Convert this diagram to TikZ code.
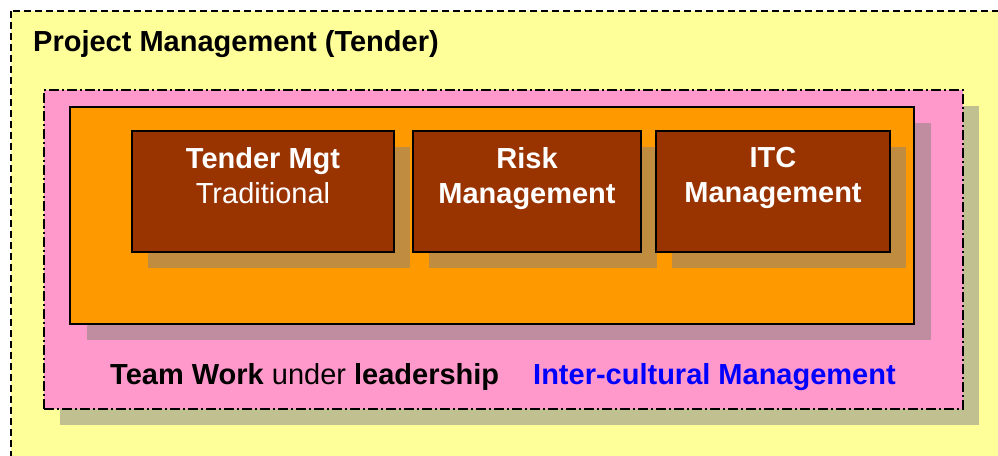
\documentclass[tikz,border=0pt]{standalone}
\usepackage{fontspec}
\setmainfont{Liberation Sans}
\usepackage{xcolor}
\usepackage{tikz}
\usetikzlibrary{shadows}
\definecolor{projyellow}{HTML}{FFFF99}
\definecolor{teampink}{HTML}{FF99CC}
\definecolor{teamshadow}{HTML}{C0C090}
\definecolor{coreorange}{HTML}{FF9900}
\definecolor{coreshadow}{HTML}{C08CA0}
\definecolor{tenderbrown}{HTML}{993300}
\definecolor{tendershadow}{HTML}{C08C40}
\tikzstyle{basebox} = [rectangle, draw=black, line width=1.5pt, inner sep=0pt]
\tikzstyle{teambox} = [basebox, fill=teampink, line width=2pt,
dash pattern=on 10pt off 3pt on 2pt off 3pt,
minimum width=919pt, minimum height=319pt,
drop shadow={shadow xshift=16pt, shadow yshift=-16pt, fill=teamshadow, opacity=1}]
\tikzstyle{corebox} = [basebox, fill=coreorange,
minimum width=844pt, minimum height=217pt,
drop shadow={shadow xshift=17pt, shadow yshift=-16pt, fill=coreshadow, opacity=1}]
\tikzstyle{tenderbox} = [basebox, fill=tenderbrown, minimum height=121pt,
drop shadow={shadow xshift=16pt, shadow yshift=-16pt, fill=tendershadow, opacity=1}]
\tikzstyle{bigtext} = [inner sep=0pt, font=\fontsize{29}{35}\selectfont]
\tikzstyle{boldtext} = [inner sep=0pt, font=\bfseries\fontsize{29}{35}\selectfont]
\tikzstyle{boxtext} = [text=white, align=center, anchor=north]

\begin{document}
\begin{tikzpicture}[x=1pt, y=1pt]
        \useasboundingbox (0,0) rectangle (998,455);
        \clip (0,0) rectangle (998,455);
        % outer frame
        \draw[fill=projyellow, line width=2pt, dash pattern=on 7pt off 4pt]
            (11,444) rectangle (1020,-20);
        \node[boldtext, anchor=base west] (project) at (33,403) {Project Management (Tender)};
        % team and core boxes
        \node[teambox] (team) at (503.5,205.5) {};
        \node[corebox] (core) at (492,239.5) {};
        % management boxes
        \node[tenderbox, minimum width=262pt] (tender) at (263,263.5) {};
        \node[tenderbox, minimum width=228pt] (risk) at (527,263.5) {};
        \node[tenderbox, minimum width=234pt] (itc) at (773,263.5) {};
        \node[bigtext, boxtext] (tendertext) at ([yshift=-17pt]tender.north) {\textbf{Tender Mgt}\\Traditional};
        \node[boldtext, boxtext] (risktext) at ([yshift=-17pt]risk.north) {Risk\\Management};
        \node[boldtext, boxtext] (itctext) at ([yshift=-17pt]itc.north) {ITC\\Management};
        % bottom line
        \node[bigtext, anchor=base west] (leader) at (110,70)
            {\textbf{Team Work} under \textbf{leadership}};
        \node[boldtext, anchor=base west, text=blue] (culture) at (533,70) {Inter-cultural Management};
    \end{tikzpicture}
\end{document}
